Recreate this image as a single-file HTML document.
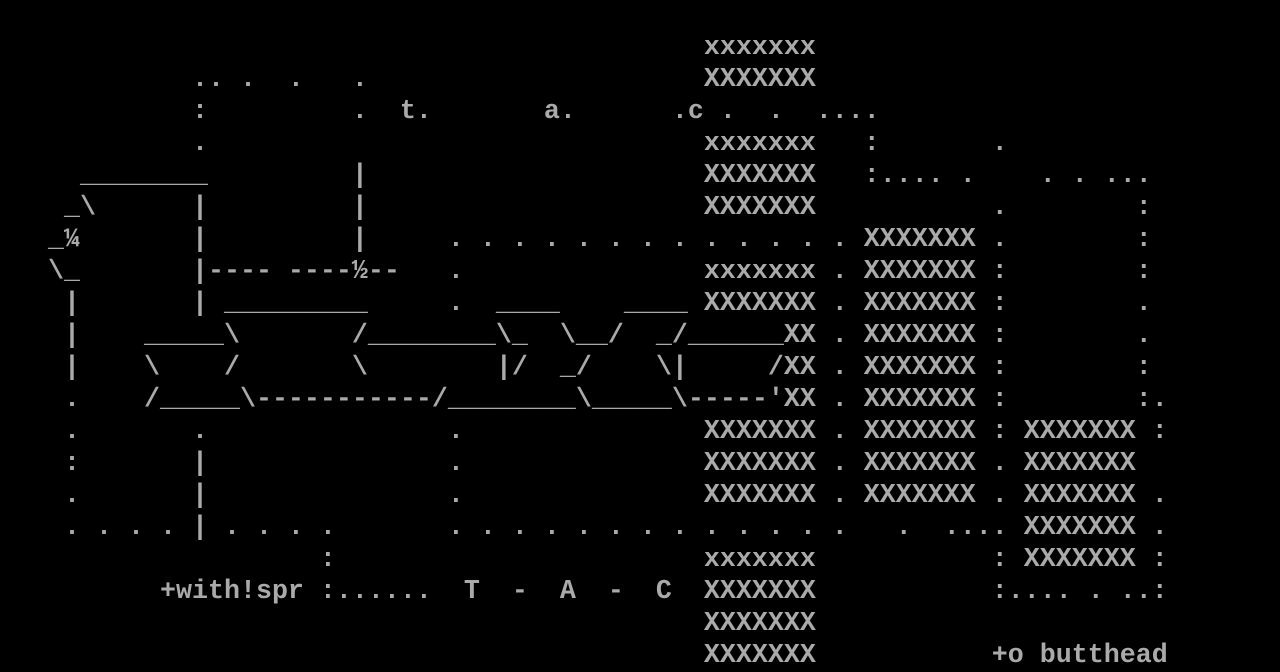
<!DOCTYPE html>
<html><head><meta charset="utf-8"><style>
html,body{margin:0;padding:0;background:#000;width:1280px;height:672px;overflow:hidden}
pre{margin:0;padding:0;font-family:"Liberation Mono",monospace;font-size:26.667px;line-height:32px;color:#aaa;white-space:pre;font-weight:bold}
</style></head><body><pre>

                                            xxxxxxx
            .. .  .   .                     XXXXXXX
            :         .  t.       a.      .c .  .  ....
            .                               xxxxxxx   :       .
     ________         |                     XXXXXXX   :.... .    . . ...
    _\      |         |                     XXXXXXX           .        :
   _¼       |         |     . . . . . . . . . . . . . XXXXXXX .        :
   \_       |---- ----½--   .               xxxxxxx . XXXXXXX :        :
    |       | _________     .  ____    ____ XXXXXXX . XXXXXXX :        .
    |    _____\       /________\_  \__/  _/______XX . XXXXXXX :        .
    |    \    /       \        |/  _/    \|     /XX . XXXXXXX :        :
    .    /_____\-----------/________\_____\-----'XX . XXXXXXX :        :.
    .       .               .               XXXXXXX . XXXXXXX : XXXXXXX :
    :       |               .               XXXXXXX . XXXXXXX . XXXXXXX
    .       |               .               XXXXXXX . XXXXXXX . XXXXXXX .
    . . . . | . . . .       . . . . . . . . . . . . .   .  .... XXXXXXX .
                    :                       xxxxxxx           : XXXXXXX :
          +with!spr :......  T  -  A  -  C  XXXXXXX           :.... . ..:
                                            XXXXXXX
                                            XXXXXXX           +o butthead</pre></body></html>
